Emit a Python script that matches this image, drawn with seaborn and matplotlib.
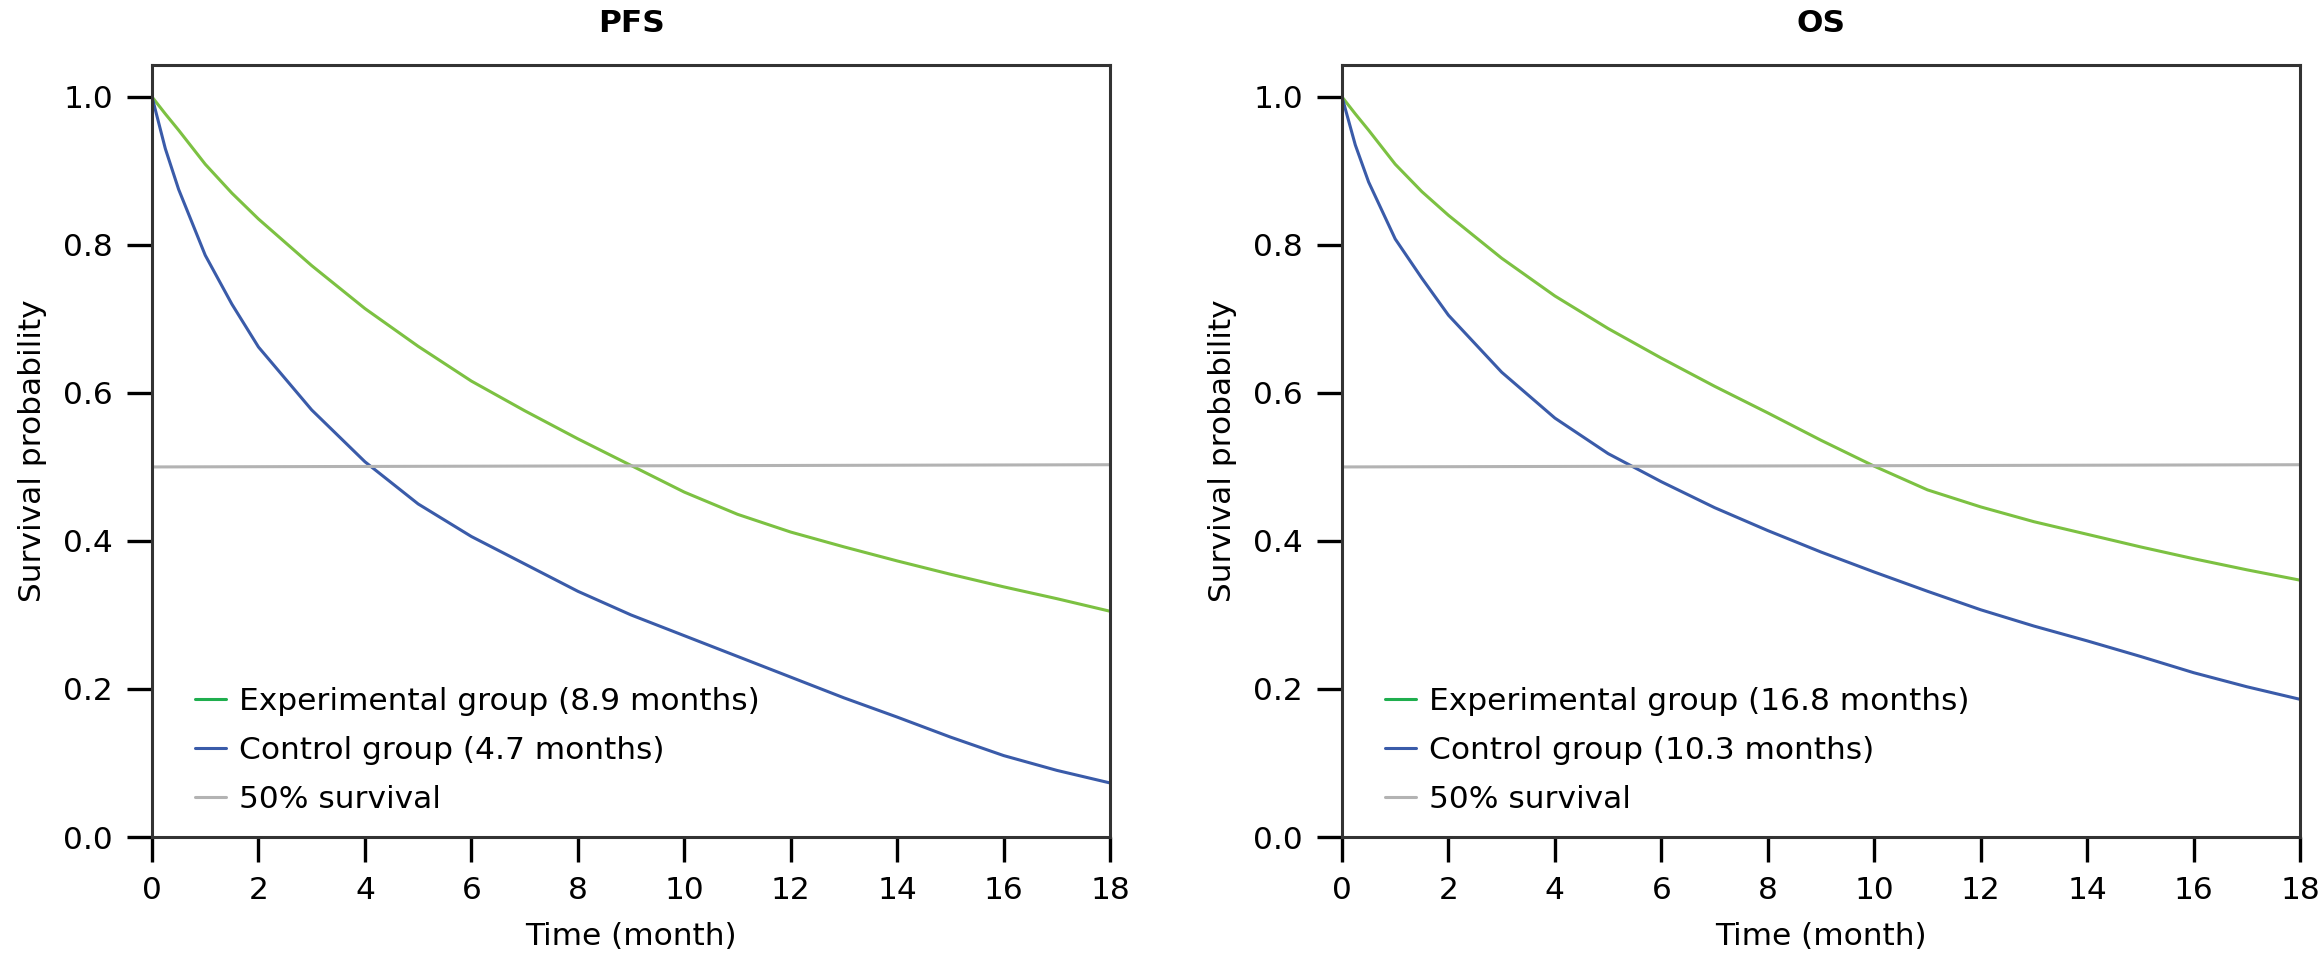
import matplotlib.pyplot as plt
import pandas as pd
import seaborn as sns
from matplotlib.lines import Line2D

# time grid (months) shared by all curves
months = [0, 0.25, 0.5, 1, 1.5, 2, 3, 4, 5, 6, 7, 8, 9, 10, 11, 12, 13, 14, 15, 16, 17, 18]

# PFS survival curves
pfs_exp = [1.0, 0.977, 0.955, 0.909, 0.870, 0.835, 0.772, 0.714, 0.663, 0.616, 0.576,
           0.538, 0.502, 0.466, 0.436, 0.412, 0.392, 0.373, 0.355, 0.338, 0.322, 0.305]
pfs_ctl = [1.0, 0.930, 0.875, 0.786, 0.720, 0.662, 0.577, 0.507, 0.450, 0.406, 0.369,
           0.332, 0.300, 0.272, 0.244, 0.216, 0.188, 0.162, 0.135, 0.110, 0.090, 0.073]

# OS survival curves
os_exp = [1.0, 0.977, 0.955, 0.909, 0.872, 0.840, 0.782, 0.731, 0.687, 0.647, 0.609,
          0.573, 0.536, 0.501, 0.469, 0.446, 0.426, 0.409, 0.392, 0.376, 0.361, 0.347]
os_ctl = [1.0, 0.935, 0.885, 0.808, 0.755, 0.705, 0.628, 0.566, 0.518, 0.480, 0.445,
          0.414, 0.385, 0.358, 0.332, 0.307, 0.285, 0.265, 0.244, 0.222, 0.203, 0.186]

# 50% reference line end points
ref_x = [0, 18]
ref_y = [0.500, 0.503]

titles = ['PFS', 'OS']
exp_labels = ['Experimental group (8.9 months)', 'Experimental group (16.8 months)']
ctl_labels = ['Control group (4.7 months)', 'Control group (10.3 months)']
ref_label = '50% survival'

GREEN = '#7cc142'
BLUE = '#3a5ba9'
GREY = '#b3b3b3'
LEG_GREEN = '#1fae4e'
DARK = '#333333'

sns.set_theme(style='white')
plt.rcParams['font.family'] = ['DejaVu Sans']
plt.rcParams['text.color'] = 'black'
plt.rcParams['axes.labelcolor'] = 'black'
plt.rcParams['xtick.labelcolor'] = 'black'
plt.rcParams['ytick.labelcolor'] = 'black'

fig = plt.figure(figsize=(23.21, 9.71), dpi=100)
ax_l = fig.add_axes([0.0655, 0.138, 0.4128, 0.795])
ax_r = fig.add_axes([0.5782, 0.138, 0.4128, 0.795])

panels = [(ax_l, pfs_exp, pfs_ctl), (ax_r, os_exp, os_ctl)]

for i, (ax, exp, ctl) in enumerate(panels):
    df = pd.DataFrame({'Time': months, 'exp': exp, 'ctl': ctl})
    sns.lineplot(data=df, x='Time', y='exp', ax=ax, color=GREEN, linewidth=2.2)
    sns.lineplot(data=df, x='Time', y='ctl', ax=ax, color=BLUE, linewidth=2.2)
    sns.lineplot(x=ref_x, y=ref_y, ax=ax, color=GREY, linewidth=2.2)

    ax.set_xlim(0, 18)
    ax.set_ylim(0, 1.043)
    ax.set_xticks(range(0, 19, 2))
    ax.set_yticks([0.0, 0.2, 0.4, 0.6, 0.8, 1.0])
    ax.set_yticklabels(['0.0', '0.2', '0.4', '0.6', '0.8', '1.0'])
    ax.set_title(titles[i], fontsize=22.5, fontweight='bold', pad=24, color='black')
    ax.set_xlabel('Time (month)', fontsize=22.5, labelpad=12)
    ax.set_ylabel('Survival probability', fontsize=22.5, labelpad=12)
    ax.tick_params(axis='both', which='major', direction='out', length=18,
                   width=2.4, color='black', labelsize=22.5, pad=10)
    ax.tick_params(axis='both', bottom=True, left=True)
    for sp in ax.spines.values():
        sp.set_visible(True)
        sp.set_color(DARK)
        sp.set_linewidth(2.2)

    handles = [Line2D([], [], color=LEG_GREEN, linewidth=2.2),
               Line2D([], [], color=BLUE, linewidth=2.2),
               Line2D([], [], color=GREY, linewidth=2.2)]
    ax.legend(handles, [exp_labels[i], ctl_labels[i], ref_label],
              loc='center left', bbox_to_anchor=(0.045, 0.112), frameon=False,
              fontsize=22.5, handlelength=1.0, handletextpad=0.4,
              labelspacing=0.64, borderpad=0, borderaxespad=0)

fig.savefig('out.png', dpi=100)
